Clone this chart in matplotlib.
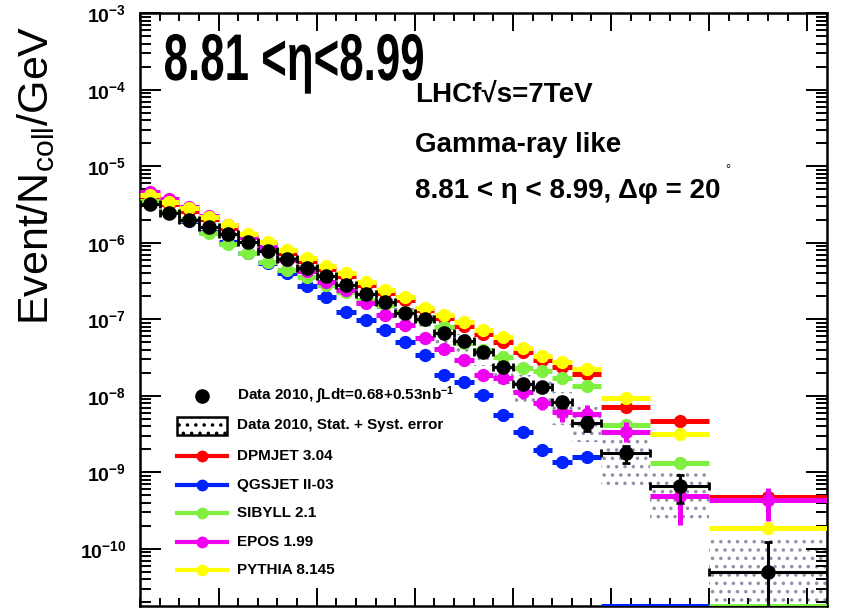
# LHCf gamma-ray like energy spectrum, 8.81 < eta < 8.99
import numpy as np
import matplotlib
matplotlib.use('Agg')
from matplotlib import pyplot as plt
from matplotlib.patches import Rectangle, PathPatch
from matplotlib.textpath import TextPath
from matplotlib.font_manager import FontProperties
from matplotlib.transforms import Affine2D
from matplotlib.ticker import FixedLocator, MultipleLocator, FuncFormatter, NullFormatter

W, H = 853, 610

# energy bins [GeV]
edges = [100, 200, 300, 400, 500, 600, 700, 800, 900, 1000, 1100, 1200, 1300,
         1400, 1500, 1600, 1700, 1800, 1900, 2000, 2100, 2200, 2300, 2450,
         2700, 3000, 3600]

# Data 2010
data_val = [3.21e-6, 2.45e-6, 1.99e-6, 1.61e-6, 1.30e-6, 1.02e-6, 7.8e-7, 6.14e-7,
            4.69e-7, 3.68e-7, 2.81e-7, 2.14e-7, 1.68e-7, 1.20e-7, 1.01e-7, 6.6e-8,
            5.2e-8, 3.74e-8, 2.38e-8, 1.43e-8, 1.30e-8, 8.3e-9, 4.4e-9, 1.79e-9,
            6.6e-10, 5.0e-11]
# relative stat. errors
stat_up = [0.02, 0.02, 0.02, 0.02, 0.02, 0.02, 0.03, 0.03, 0.03, 0.03, 0.04, 0.04, 0.05,
           0.05, 0.06, 0.07, 0.08, 0.09, 0.10, 0.12, 0.12, 0.15, 0.20, 0.25, 0.40, 1.45]
stat_dn = [0.02, 0.02, 0.02, 0.02, 0.02, 0.02, 0.03, 0.03, 0.03, 0.03, 0.04, 0.04, 0.05,
           0.05, 0.06, 0.07, 0.08, 0.09, 0.10, 0.12, 0.12, 0.15, 0.20, 0.25, 0.40, 0.99]
# relative stat.+syst. band
sys_up = [0.10, 0.10, 0.10, 0.10, 0.10, 0.10, 0.10, 0.10, 0.12, 0.12, 0.12, 0.14, 0.15,
          0.18, 0.20, 0.22, 0.25, 0.25, 0.28, 0.30, 0.30, 0.35, 0.60, 0.47, 0.55, 1.60]
sys_dn = [0.10, 0.10, 0.10, 0.10, 0.10, 0.10, 0.10, 0.10, 0.12, 0.12, 0.14, 0.16, 0.18,
          0.22, 0.25, 0.30, 0.30, 0.35, 0.40, 0.45, 0.45, 0.50, 0.43, 0.64, 0.66, 0.98]

# MC predictions
dpmjet = [3.97e-6, 3.21e-6, 2.60e-6, 2.05e-6, 1.56e-6, 1.19e-6, 9.6e-7, 7.35e-7, 5.8e-7,
          4.54e-7, 3.68e-7, 2.81e-7, 2.21e-7, 1.79e-7, 1.32e-7, 1.04e-7, 8.17e-8, 6.43e-8,
          5.05e-8, 3.73e-8, 2.94e-8, 2.38e-8, 1.93e-8, 7.1e-9, 4.68e-9, 4.7e-10]
qgsjet = [3.31e-6, 2.53e-6, 1.93e-6, 1.38e-6, 1.02e-6, 7.35e-7, 5.45e-7, 4.03e-7, 2.72e-7,
          1.96e-7, 1.25e-7, 9.8e-8, 7.2e-8, 5.05e-8, 3.41e-8, 1.87e-8, 1.52e-8, 1.02e-8,
          5.6e-9, 3.36e-9, 1.96e-9, 1.36e-9, 1.58e-9, 0, 0, 0]
sibyll = [3.52e-6, 2.53e-6, 1.99e-6, 1.34e-6, 9.6e-7, 7.35e-7, 5.6e-7, 4.4e-7, 3.57e-7,
          2.81e-7, 2.27e-7, 1.79e-7, 1.54e-7, 1.25e-7, 9.8e-8, 7.9e-8, 4.9e-8, 3.97e-8,
          3.21e-8, 2.31e-8, 2.11e-8, 1.71e-8, 1.34e-8, 4.15e-9, 1.32e-9, 0]
epos = [4.6e-6, 3.73e-6, 2.94e-6, 2.24e-6, 1.71e-6, 1.19e-6, 8.8e-7, 5.96e-7, 4.28e-7,
        3.07e-7, 2.42e-7, 1.63e-7, 1.14e-7, 8.4e-8, 5.7e-8, 4.09e-8, 2.94e-8, 1.87e-8,
        1.71e-8, 1.12e-8, 8.05e-9, 6.15e-9, 5.8e-9, 3.36e-9, 4.9e-10, 4.4e-10]
pythia = [4.2e-6, 3.45e-6, 2.85e-6, 2.19e-6, 1.71e-6, 1.30e-6, 1.03e-6, 8.05e-7, 6.3e-7,
          4.97e-7, 4.03e-7, 3.07e-7, 2.42e-7, 1.96e-7, 1.41e-7, 1.14e-7, 9.2e-8, 7.2e-8,
          5.9e-8, 4.2e-8, 3.3e-8, 2.77e-8, 2.24e-8, 9.4e-9, 3.17e-9, 1.87e-10]
# EPOS relative errors (only ones that show)
epos_up = [0.02, 0.02, 0.02, 0.02, 0.02, 0.02, 0.03, 0.03, 0.03, 0.04, 0.04, 0.05, 0.06,
           0.07, 0.08, 0.10, 0.12, 0.15, 0.15, 0.20, 0.20, 0.25, 0.30, 0.35, 0.31, 0.43]
epos_dn = [0.02, 0.02, 0.02, 0.02, 0.02, 0.02, 0.03, 0.03, 0.03, 0.04, 0.04, 0.05, 0.06,
           0.07, 0.08, 0.10, 0.12, 0.15, 0.15, 0.20, 0.20, 0.25, 0.26, 0.26, 0.58, 0.47]

models = [('DPMJET 3.04', dpmjet, '#ff0000'),
          ('QGSJET II-03', qgsjet, '#0022ff'),
          ('SIBYLL 2.1', sibyll, '#80f040'),
          ('EPOS 1.99', epos, '#f000f0'),
          ('PYTHIA 8.145', pythia, '#ffff00')]

y_decades = [1e-10, 1e-9, 1e-8, 1e-7, 1e-6, 1e-5, 1e-4, 1e-3]
YLO, YHI = 1.79e-11, 1e-3

# --------------------------------------------------------------------------- #

plt.rcParams['mathtext.fontset'] = 'custom'
plt.rcParams['mathtext.rm'] = 'Liberation Sans'
plt.rcParams['mathtext.bf'] = 'Liberation Sans:bold'
plt.rcParams['mathtext.it'] = 'Liberation Sans:italic'
plt.rcParams['hatch.linewidth'] = 1.3
plt.rcParams['hatch.color'] = '#9090a8'

edges = np.array(edges, dtype=float)
lo_e, hi_e = edges[:-1], edges[1:]
cen = 0.5 * (lo_e + hi_e)
half = 0.5 * (hi_e - lo_e)
dv = np.array(data_val)

fig = plt.figure(figsize=(W / 100, H / 100), dpi=100)
ax = fig.add_axes([140 / W, 1 - 606 / H, (827 - 140) / W, (606 - 13.3) / H])
ax.set_yscale('log')
ax.set_xlim(100, 3600)
ax.set_ylim(YLO, YHI)

# stat + syst boxes
for i in range(len(cen)):
    y0 = dv[i] * (1 - sys_dn[i])
    y1 = dv[i] * (1 + sys_up[i])
    ax.add_patch(Rectangle((lo_e[i], y0), hi_e[i] - lo_e[i], y1 - y0,
                           facecolor='none', edgecolor='#9090a8', lw=0,
                           hatch='..', zorder=1))

# MC histograms
for z, (name, vals, col) in enumerate(models):
    v = np.array(vals, dtype=float)
    yv = np.where(v > 0, v, YLO)
    ax.hlines(yv, lo_e, hi_e, colors=col, lw=3.6, zorder=3 + z)
    pos = v > 0
    ax.plot(cen[pos], v[pos], 'o', color=col, ms=8.5, mec=col, zorder=3 + z)
    if name.startswith('EPOS'):
        ax.errorbar(cen, v, yerr=[v * np.array(epos_dn), v * np.array(epos_up)],
                    fmt='none', ecolor=col, elinewidth=3.6, capsize=0, zorder=3 + z)

# data points
ax.errorbar(cen, dv, xerr=half, yerr=[dv * np.array(stat_dn), dv * np.array(stat_up)],
            fmt='o', color='k', ms=9.5, elinewidth=2.2, capsize=3, capthick=2,
            zorder=20)

# axes style
for s in ax.spines.values():
    s.set_linewidth(1.8)
ax.xaxis.set_major_locator(MultipleLocator(500))
ax.xaxis.set_minor_locator(MultipleLocator(100))
ax.yaxis.set_major_locator(FixedLocator(y_decades))
ax.yaxis.set_minor_locator(FixedLocator([m * d for d in [1e-11] + y_decades[:-1]
                                         for m in range(2, 10)]))
ax.yaxis.set_minor_formatter(NullFormatter())
ax.yaxis.set_major_formatter(FuncFormatter(
    lambda y, p: r'$\mathbf{10^{%d}}$' % int(round(np.log10(y)))))
ax.tick_params(which='both', direction='in', top=True, right=True, width=1.4,
               labelbottom=False)
ax.tick_params(axis='y', which='major', length=15, labelsize=14, pad=10)
ax.tick_params(axis='y', which='minor', length=8)
ax.tick_params(axis='x', which='major', length=13)
ax.tick_params(axis='x', which='minor', length=6)

# --------------------------------------------------------------------------- #
# texts
def fx(x):
    return x / W

def fy(y):
    return 1 - y / H

fig.text(fx(36), fy(175), r'Event/N$_{\rm coll}$/GeV', rotation=90, fontsize=31,
         family='Liberation Sans', ha='center', va='center')

# big condensed label: squeeze a text path into the box it fills in the reference
big = TextPath((0, 0), u'8.81 <\u03b7<8.99', size=66,
               prop=FontProperties(family='Liberation Sans', weight='bold'))
ext = big.get_extents()
sx = (423 - 165) / ext.width
big_tr = Affine2D().translate(-ext.x0, 0).scale(sx, 1.0).translate(165, H - 80)
fig.patches.append(PathPatch(big, transform=big_tr, facecolor='k', lw=0))

fig.text(fx(415), fy(102), u'LHCf\u221as=7TeV', fontsize=20,
         fontweight='bold', family='Liberation Sans', va='baseline')
fig.text(fx(415), fy(152), 'Gamma-ray like', fontsize=20, fontweight='bold',
         family='Liberation Sans', va='baseline')
fig.text(fx(415), fy(198), u'8.81 < \u03b7 < 8.99, \u0394\u03c6 = 20', fontsize=20,
         fontweight='bold', family='Liberation Sans', va='baseline')
fig.text(fx(728), fy(170), u'\u00b0', fontsize=9, family='Liberation Sans',
         ha='center', va='center')

# legend, drawn by hand like the ROOT TLegend
leg_x0, leg_x1, leg_tx = 177, 227, 237
ax.plot([(leg_x0 + leg_x1) / 2 / W], [fy(396)], 'o', color='k', ms=9.5,
        transform=fig.transFigure, clip_on=False, zorder=30)
fig.text(fx(leg_tx), fy(395), r'Data 2010, $\mathbf{\int}$Ldt=0.68+0.53nb$^{\mathbf{-1}}$',
         fontsize=11, fontweight='bold', family='Liberation Sans', va='center')
fig.patches.append(Rectangle((fx(leg_x0), fy(435)), (leg_x1 - leg_x0) / W, 18 / H,
                             transform=fig.transFigure, facecolor='white',
                             edgecolor='k', lw=1.8, hatch='..'))
fig.text(fx(leg_tx), fy(425), 'Data 2010, Stat. + Syst. error', fontsize=11,
         fontweight='bold', family='Liberation Sans', va='center')
leg_rows = [456, 485, 513, 542, 570]
for (name, vals, col), yr in zip(models, leg_rows):
    ax.plot([fx(leg_x0), fx(leg_x1)], [fy(yr), fy(yr)], '-', color=col, lw=3,
            transform=fig.transFigure, clip_on=False, zorder=30)
    ax.plot([(leg_x0 + leg_x1) / 2 / W], [fy(yr)], 'o', color=col, ms=7.5,
            transform=fig.transFigure, clip_on=False, zorder=30)
    fig.text(fx(leg_tx), fy(yr), name, fontsize=11, fontweight='bold',
             family='Liberation Sans', va='center')

plt.savefig('out.png', dpi=100)
